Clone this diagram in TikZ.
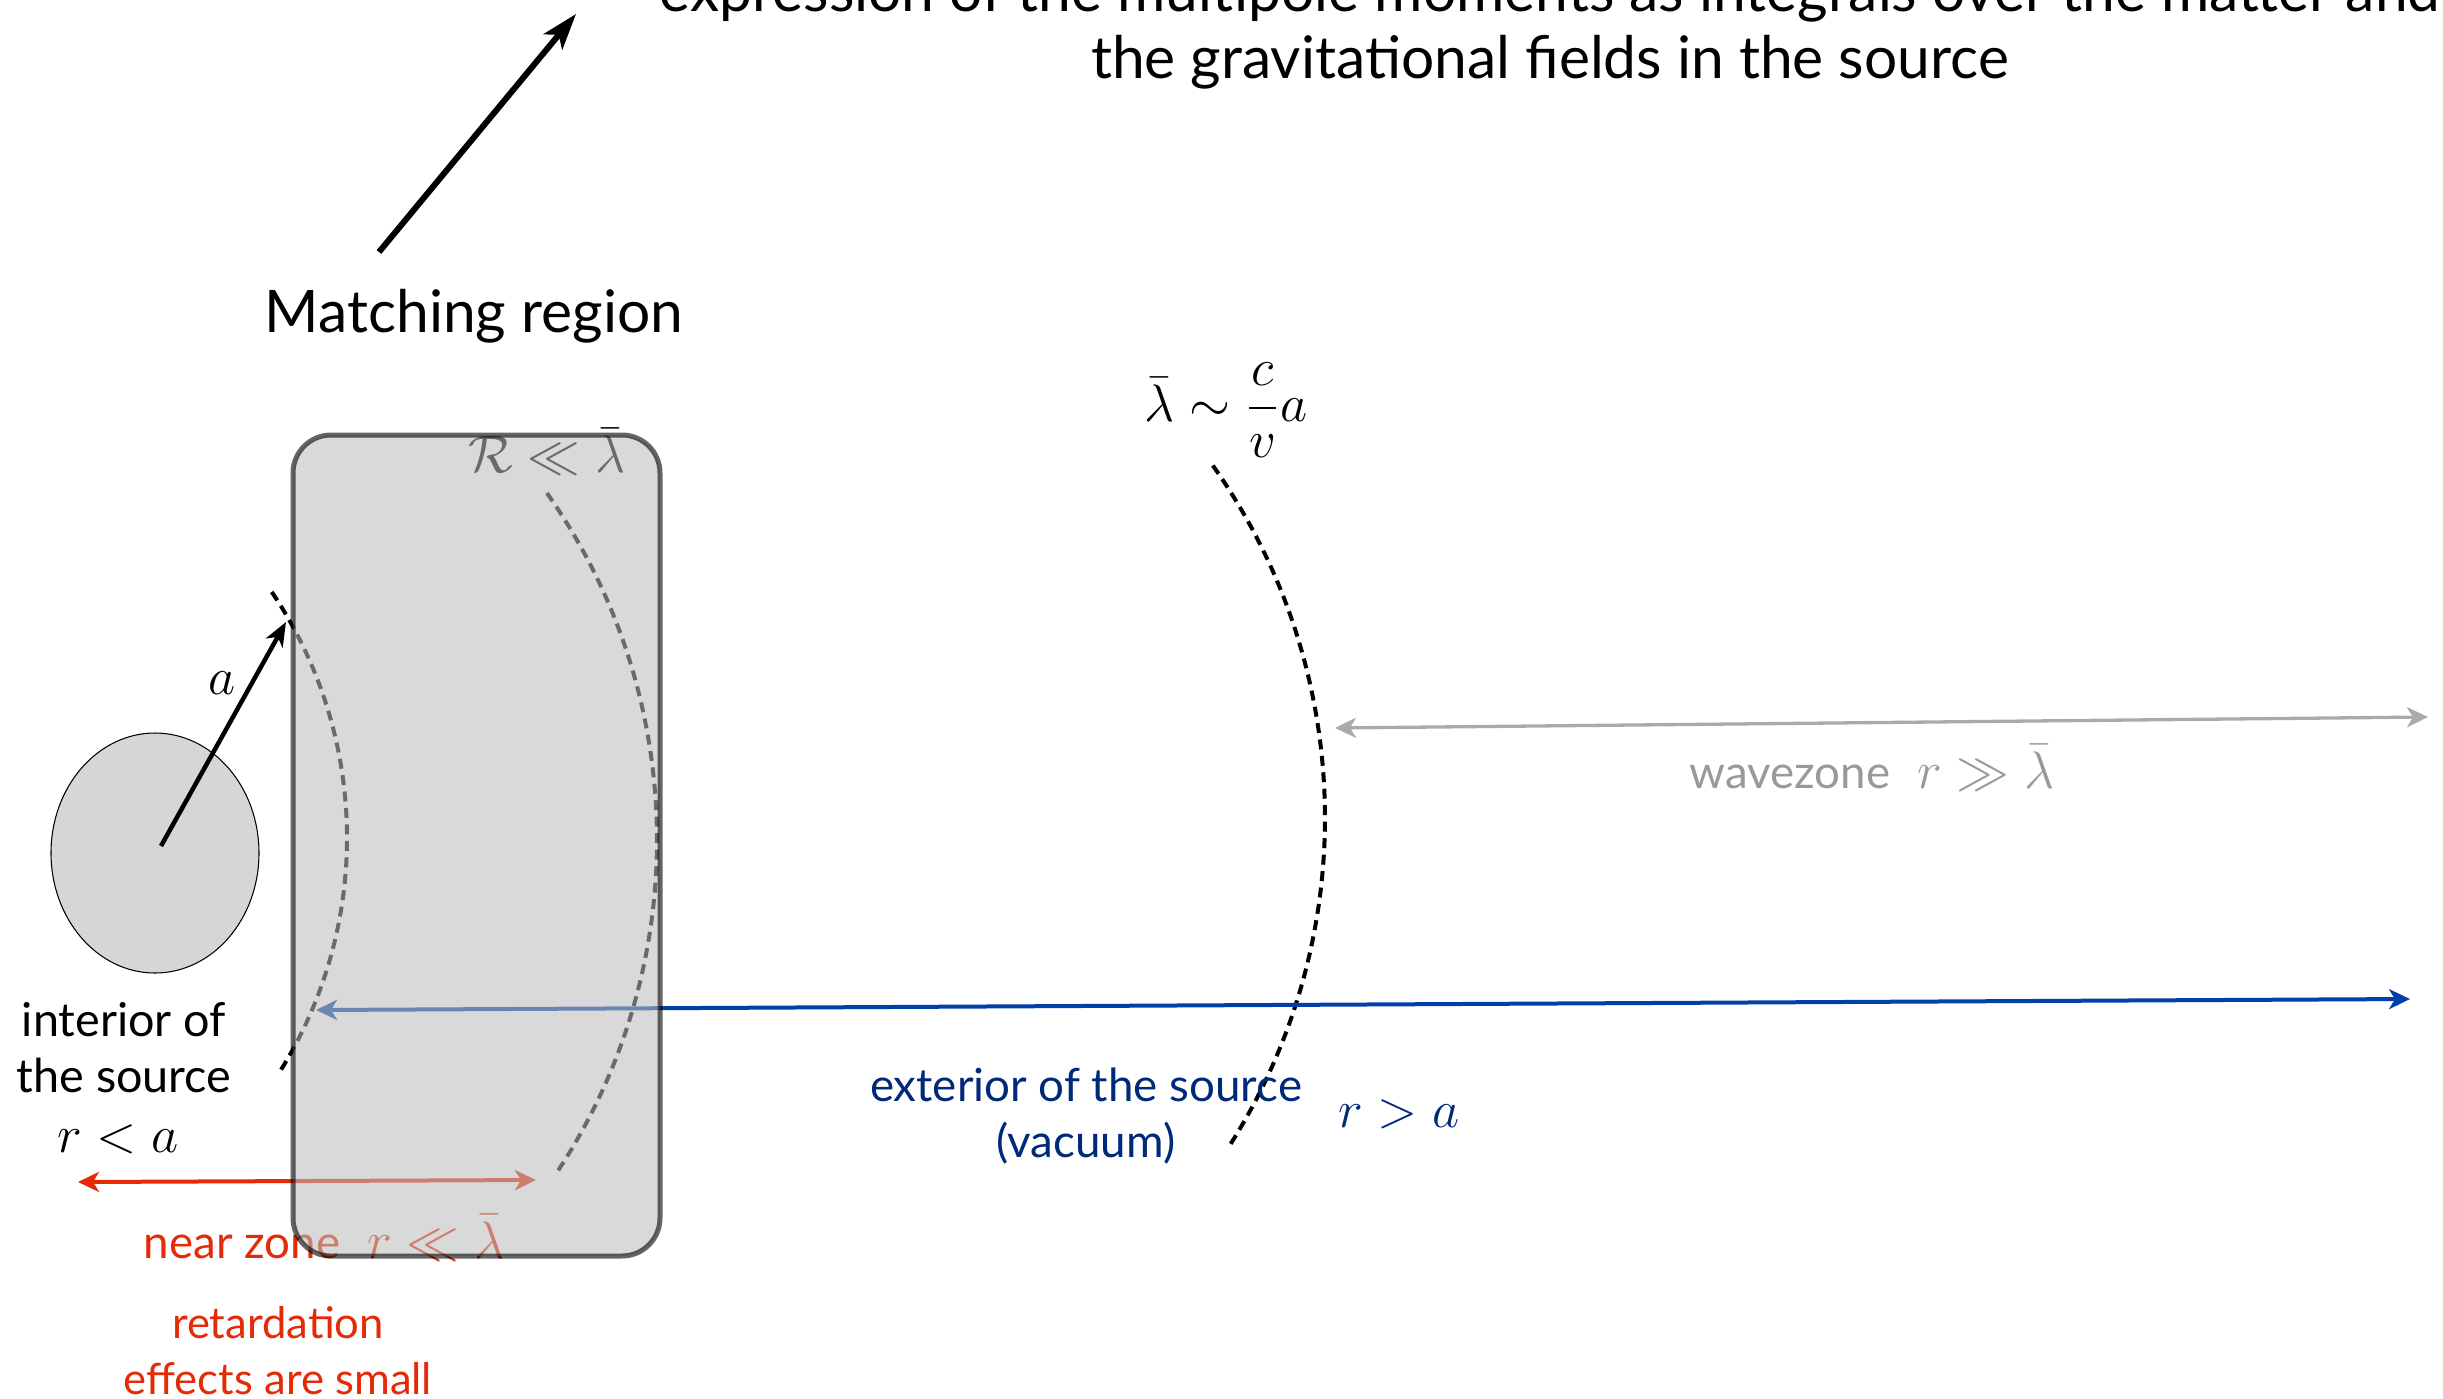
\documentclass[tikz,border=0pt]{standalone}
\usepackage{fix-cm}
\usepackage{amsmath,amssymb}
\usepackage{fontspec}
\setmainfont{Lato}
\usepackage{tikz}
\usetikzlibrary{arrows.meta}
\definecolor{ZONEblue}{HTML}{0040A8}
\definecolor{ZONEnavy}{HTML}{00297A}
\definecolor{ZONEred}{HTML}{E52A08}
\definecolor{ZONEgrey}{HTML}{AAAAAA}
\definecolor{ZONEtext}{HTML}{999999}
\definecolor{ZONEbox}{HTML}{BCBCBC}
\definecolor{ZONEball}{HTML}{D6D6D6}
\tikzset{
  lbl/.style={inner sep=0pt, align=center},
  bigtext/.style={lbl, font=\fontsize{16.7}{18.8}\selectfont},
  midtext/.style={lbl, font=\fontsize{13}{15.8}\selectfont},
  mathtext/.style={lbl, font=\fontsize{15}{18}\selectfont},
  zonearc/.style={draw=black, line width=0.4mm, dash pattern=on 1mm off 0.65mm},
  zonearr/.style={line width=0.4mm, {Stealth[length=2.1mm,width=2mm,inset=0.6mm]}-{Stealth[length=2.1mm,width=2mm,inset=0.6mm]}},
  matchbox/.style={rounded corners=3.8mm, draw=black, draw opacity=0.6, line width=0.5mm, fill=ZONEbox, fill opacity=0.57}
}

\begin{document}
\begin{tikzpicture}[x=0.1mm, y=-0.1mm]
\clip (0,0) rectangle (2443,1398);

% radii of the three zones
\draw[zonearc] (-93,838) ++(-34:440) arc[start angle=-34, end angle=32, radius=440];
\draw[zonearc] (55,840) ++(-35.2:602) arc[start angle=-35.2, end angle=33.5, radius=602];
\draw[zonearc] (715,818) ++(-35.3:610) arc[start angle=-35.3, end angle=32.6, radius=610];

% end points of the arrows
\coordinate (bluel) at (316,1010);
\coordinate (bluer) at (2410,999);
\coordinate (greyl) at (1335,728);
\coordinate (greyr) at (2428,717);
\coordinate (redl) at (78,1182);
\coordinate (redr) at (536,1180);
\coordinate (srcc) at (161,846);
\coordinate (srca) at (286,622);
\coordinate (mfoot) at (379,252);
\coordinate (mtip) at (576,14);

\draw[zonearr, draw=ZONEblue, fill=ZONEblue] (bluel) -- (bluer);
\draw[zonearr, draw=ZONEgrey, fill=ZONEgrey, line width=0.33mm] (greyl) -- (greyr);
\draw[zonearr, draw=ZONEred, fill=ZONEred] (redl) -- (redr);

% the source
\draw[fill=ZONEball, line width=0.3pt] (155,853) ellipse[x radius=104, y radius=120];
\draw[line width=0.45mm, -{Stealth[length=2.4mm,width=1.9mm,inset=0.7mm]}] (srcc) -- (srca);
\node[mathtext] (alab) at (222,683) {$a$};

% labels
\node[bigtext, anchor=base] (expr) at (1550,78) {expression of the multipole moments as integrals over the matter and\\the gravitational fields in the source};
\node[bigtext, anchor=base] (match) at (474,332) {Matching region};
\draw[line width=0.6mm, -{Stealth[length=3.6mm,width=2.4mm,inset=0.9mm]}] (mfoot) -- (mtip);

\node[mathtext] (lamb) at (1226,410) {$\bar\lambda\sim\dfrac{c}{v}a$};
\node[mathtext, anchor=base] (rll) at (547,472) {$\mathcal{R}\ll\bar\lambda$};
\node[midtext, font=\fontsize{13.3}{15.8}\selectfont, anchor=base] (inner) at (124,1092) {interior of\\the source};
\node[mathtext, anchor=base] (rlta) at (118,1152) {$r<a$};
\node[midtext, text=ZONEred, anchor=base west] (near) at (143,1258) {near zone\hspace{0.6em}\fontsize{15}{18}\selectfont$r\ll\bar\lambda$};
\node[midtext, font=\fontsize{12.4}{15.8}\selectfont, text=ZONEred, anchor=base] (retard) at (278,1394) {retardation\\effects are small};
\node[midtext, text=ZONEnavy, anchor=base] (outer) at (1086,1157) {exterior of the source\\(vacuum)};
\node[mathtext, text=ZONEnavy, anchor=base] (rgta) at (1399,1127) {$r>a$};
\node[midtext, text=ZONEtext, anchor=base] (wave) at (1872,788) {wavezone\hspace{0.6em}\fontsize{15}{18}\selectfont$r\gg\bar\lambda$};

% matching region on top
\draw[matchbox] (293,435) rectangle (660,1256);
\end{tikzpicture}
\end{document}
